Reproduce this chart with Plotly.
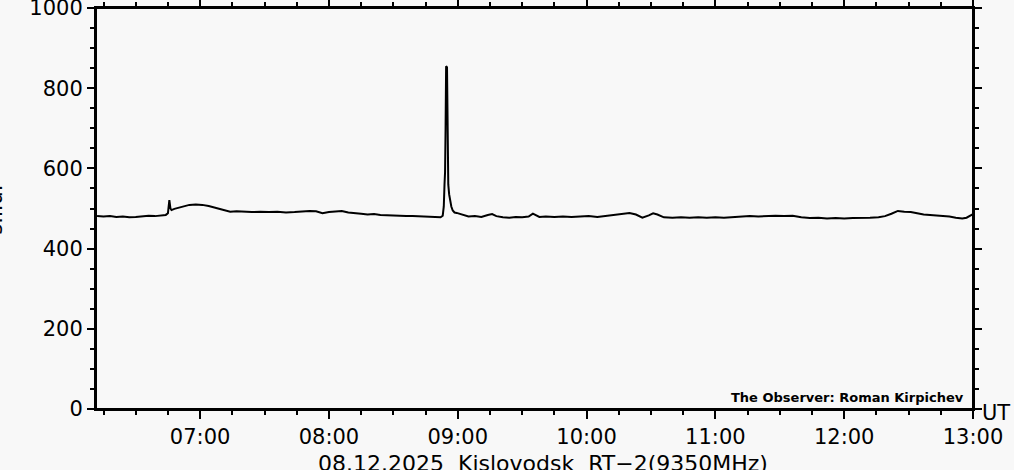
import pandas as pd
import plotly.graph_objects as go

# Kislovodsk RT-2 flux record, 08.12.2025
obs_date = "2025-12-08"

times = [
    "06:12:00", "06:15:00", "06:18:00", "06:21:00", "06:24:00", "06:27:00", "06:30:00",
    "06:33:00", "06:36:00", "06:39:00", "06:42:00", "06:44:00", "06:45:00", "06:45:40",
    "06:46:10", "06:46:40", "06:48:00", "06:50:00", "06:52:00", "06:55:00", "06:58:00",
    "07:01:00", "07:04:00", "07:07:00", "07:10:00", "07:12:00", "07:14:00", "07:17:00",
    "07:20:00", "07:24:00", "07:28:00", "07:32:00", "07:36:00", "07:40:00", "07:44:00",
    "07:48:00", "07:51:00", "07:54:00", "07:57:00", "08:00:00", "08:03:00", "08:06:00",
    "08:09:00", "08:12:00", "08:15:00", "08:18:00", "08:21:00", "08:24:00", "08:27:00",
    "08:30:00", "08:33:00", "08:36:00", "08:39:00", "08:42:00", "08:45:00", "08:48:00",
    "08:50:00", "08:52:00", "08:53:00", "08:53:30", "08:53:50", "08:54:05", "08:54:20",
    "08:54:35", "08:55:00", "08:55:15", "08:55:35", "08:56:00", "08:56:30", "08:57:00",
    "08:57:40", "08:58:30", "08:59:30", "09:01:00", "09:03:00", "09:05:00", "09:08:00",
    "09:11:00", "09:14:00", "09:16:00", "09:18:00", "09:21:00", "09:24:00", "09:27:00",
    "09:30:00", "09:33:00", "09:35:00", "09:36:30", "09:38:00", "09:41:00", "09:45:00",
    "09:49:00", "09:53:00", "09:57:00", "10:01:00", "10:05:00", "10:09:00", "10:13:00",
    "10:17:00", "10:20:00", "10:23:00", "10:26:00", "10:29:00", "10:31:00", "10:33:00",
    "10:36:00", "10:40:00", "10:44:00", "10:48:00", "10:52:00", "10:56:00", "11:00:00",
    "11:04:00", "11:08:00", "11:12:00", "11:16:00", "11:20:00", "11:24:00", "11:28:00",
    "11:32:00", "11:36:00", "11:40:00", "11:44:00", "11:48:00", "11:52:00", "11:56:00",
    "12:00:00", "12:04:00", "12:08:00", "12:12:00", "12:16:00", "12:19:00", "12:22:00",
    "12:25:00", "12:28:00", "12:31:00", "12:34:00", "12:37:00", "12:40:00", "12:43:00",
    "12:46:00", "12:49:00", "12:52:00", "12:55:00", "12:57:00", "12:59:00", "13:00:00",
]

flux = [
    481, 480, 481, 479, 480, 478, 479,
    481, 482, 481, 482, 484, 488, 521,
    500, 496, 499, 502, 506, 509, 510,
    509, 506, 502, 497, 494, 492, 493,
    492, 491, 492, 491, 492, 490, 491,
    493, 494, 493, 488, 491, 492, 494,
    490, 489, 487, 485, 486, 484, 483,
    483, 482, 481, 481, 480, 479, 478,
    477, 478, 482, 505, 560, 590, 700,
    855, 852, 650, 560, 535, 518, 505,
    495, 490, 489, 487, 483, 480, 481,
    479, 484, 486, 481, 478, 477, 479,
    478, 480, 487, 484, 479, 480, 479,
    480, 479, 480, 481, 479, 482, 484,
    487, 489, 485, 477, 483, 488, 485,
    478, 477, 478, 477, 478, 477, 478,
    477, 478, 479, 481, 480, 481, 482,
    481, 482, 478, 476, 477, 475, 476,
    475, 476, 476, 477, 478, 481, 487,
    494, 492, 491, 488, 485, 484, 483,
    482, 480, 477, 475, 477, 484, 486,
]

x_start = "06:11:30"
x_end = "13:00:00"
x_ticks = ["07:00", "08:00", "09:00", "10:00", "11:00", "12:00", "13:00"]
x_title = "08.12.2025\u00a0\u00a0Kislovodsk\u00a0\u00a0RT\u22122(9350MHz)"

stamps = pd.to_datetime([f"{obs_date} {t}" for t in times])

bg = "#f8f8f8"
font_main = dict(family="DejaVu Sans", size=21, color="black")

fig = go.Figure()
fig.add_trace(go.Scatter(
    x=stamps, y=flux, mode="lines",
    line=dict(color="black", width=2),
    showlegend=False, hoverinfo="skip"
))

fig.update_layout(
    width=1014, height=470,
    margin=dict(l=96, r=41, t=8, b=61, autoexpand=False),
    paper_bgcolor=bg, plot_bgcolor=bg,
    font=font_main,
)

fig.update_xaxes(
    range=[f"{obs_date} {x_start}", f"{obs_date} {x_end}"],
    tickvals=pd.to_datetime([f"{obs_date} {t}" for t in x_ticks]),
    ticktext=x_ticks,
    automargin=False, ticklabeloverflow="allow",
    showgrid=False, zeroline=False,
    showline=True, linecolor="black", linewidth=2, mirror="ticks",
    ticks="outside", ticklen=8, tickwidth=2, tickcolor="black",
    ticklabelstandoff=0,
    minor=dict(ticks="outside", ticklen=4, tickwidth=2, tickcolor="black",
               dtick=15 * 60 * 1000, tick0=f"{obs_date} 06:00"),
)

fig.update_yaxes(
    range=[0, 1000], dtick=200,
    automargin=False, ticklabeloverflow="allow",
    showgrid=False, zeroline=False,
    showline=True, linecolor="black", linewidth=2, mirror="ticks",
    ticks="outside", ticklen=7, tickwidth=2, tickcolor="black",
    ticklabelstandoff=0,
    minor=dict(ticks="outside", ticklen=4, tickwidth=2, tickcolor="black", dtick=50),
)

# plot frame
fig.add_shape(type="rect", xref="paper", yref="paper", x0=0, y0=0, x1=1, y1=1,
              line=dict(color="black", width=2), layer="above")

fig.add_annotation(
    text=x_title, xref="paper", yref="paper", x=0.5097, y=-0.1347,
    showarrow=False, font=dict(family="DejaVu Sans", size=22, color="black"),
    xanchor="center", yanchor="middle",
)
fig.add_annotation(
    text="s.f.u.", xref="paper", yref="paper", x=-0.1155, y=0.496,
    textangle=-90, showarrow=False, font=font_main,
    xanchor="center", yanchor="middle",
)
fig.add_annotation(
    text="UT", xref="paper", yref="paper", x=1.008, y=-0.01,
    showarrow=False, font=font_main, xanchor="left", yanchor="middle",
)
fig.add_annotation(
    text="<b>The Observer: Roman Kirpichev</b>", xref="paper", yref="paper",
    x=0.992, y=0.005, showarrow=False,
    font=dict(family="DejaVu Sans", size=13, color="black"),
    xanchor="right", yanchor="bottom",
)

# drop the default body margin so the figure fills the window
fig.write_html("out.html", config={"displayModeBar": False},
               post_script="document.body.style.margin='0';document.body.style.overflow='hidden';")
